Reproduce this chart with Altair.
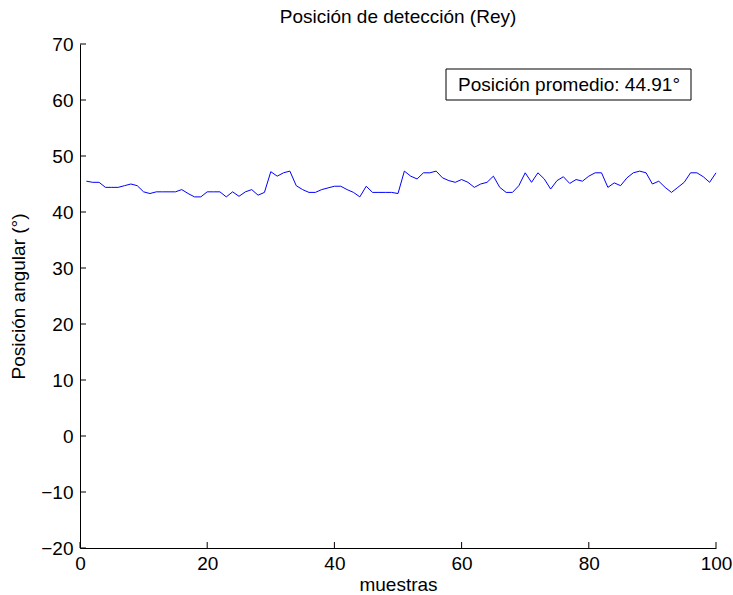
import altair as alt
import pandas as pd

# Data
muestras = list(range(1, 101))
posicion = [
    45.5, 45.3, 45.3, 44.4, 44.4, 44.4, 44.7, 45.0, 44.7, 43.6,
    43.3, 43.6, 43.6, 43.6, 43.6, 44.0, 43.3, 42.7, 42.7, 43.6,
    43.6, 43.6, 42.7, 43.6, 42.8, 43.6, 44.0, 43.0, 43.5, 47.2,
    46.4, 47.0, 47.3, 44.7, 44.0, 43.5, 43.5, 44.0, 44.3, 44.6,
    44.6, 44.0, 43.5, 42.7, 44.6, 43.5, 43.5, 43.5, 43.5, 43.3,
    47.3, 46.4, 45.9, 47.0, 47.0, 47.3, 46.1, 45.6, 45.3, 45.8,
    45.3, 44.4, 45.0, 45.3, 46.4, 44.4, 43.5, 43.5, 44.7, 47.0,
    45.3, 47.0, 45.9, 44.1, 45.6, 46.3, 45.1, 45.8, 45.5, 46.4,
    47.0, 47.0, 44.4, 45.2, 44.7, 46.1, 47.0, 47.3, 47.0, 45.0,
    45.5, 44.4, 43.5, 44.4, 45.3, 47.0, 47.0, 46.3, 45.3, 47.0,
]
x_ticks = [0, 20, 40, 60, 80, 100]
y_ticks = [-20, -10, 0, 10, 20, 30, 40, 50, 60, 70]
titulo = "Posición de detección (Rey)"
etiqueta_x = "muestras"
etiqueta_y = "Posición angular (°)"
anotacion = "Posición promedio: 44.91°"

df = pd.DataFrame({"muestra": muestras, "pos": posicion})
df_xt = pd.DataFrame({"muestra": x_ticks})
df_yt = pd.DataFrame({"pos": y_ticks})

W, H = 636, 504
FONT = "Liberation Sans"

xscale = alt.Scale(domain=[0, 100], nice=False, zero=False)
yscale = alt.Scale(domain=[-20, 70], nice=False, zero=False)

xaxis = alt.Axis(values=x_ticks, title=etiqueta_x, ticks=False, tickSize=0,
                 labelPadding=6, titlePadding=2, grid=False,
                 domainColor="black", labelColor="black", titleColor="black",
                 labelFontSize=19, titleFontSize=19, labelFont=FONT, titleFont=FONT,
                 titleFontWeight="normal", labelFlush=False)
yaxis = alt.Axis(values=y_ticks, title=etiqueta_y, ticks=False, tickSize=0,
                 labelPadding=7, titlePadding=12, grid=False,
                 domainColor="black", labelColor="black", titleColor="black",
                 labelFontSize=19, titleFontSize=19, labelFont=FONT, titleFont=FONT,
                 titleFontWeight="normal", labelFlush=False)

line = alt.Chart(df).mark_line(color="#0000ff", strokeWidth=1).encode(
    x=alt.X("muestra:Q", scale=xscale, axis=xaxis),
    y=alt.Y("pos:Q", scale=yscale, axis=yaxis),
)

yt = alt.Chart(df_yt).mark_rule(color="black", strokeWidth=1).encode(
    y=alt.Y("pos:Q", scale=yscale, axis=yaxis),
    x=alt.value(0), x2=alt.value(6),
)
xt = alt.Chart(df_xt).mark_rule(color="black", strokeWidth=1).encode(
    x=alt.X("muestra:Q", scale=xscale, axis=xaxis),
    y=alt.value(H - 6), y2=alt.value(H),
)

box = alt.Chart(pd.DataFrame({"t": [anotacion]})).mark_rect(
    fill="white", stroke="black", strokeWidth=1
).encode(
    x=alt.value(366), x2=alt.value(611), y=alt.value(25), y2=alt.value(56)
)
txt = alt.Chart(pd.DataFrame({"t": [anotacion]})).mark_text(
    font=FONT, fontSize=19, color="black", align="center", baseline="middle"
).encode(
    text="t:N", x=alt.value(489), y=alt.value(41)
)

chart = alt.layer(line, yt, xt, box, txt).properties(
    width=W, height=H,
    title=alt.TitleParams(titulo, font=FONT, fontSize=19, fontWeight="normal",
                          color="black", anchor="middle", offset=8),
    autosize=alt.AutoSizeParams(type="none"),
    padding={"left": 80, "top": 44, "right": 17, "bottom": 47},
    background="white",
).configure_view(stroke=None)

chart.save("out.html", embed_options={"renderer": "svg", "actions": False})
